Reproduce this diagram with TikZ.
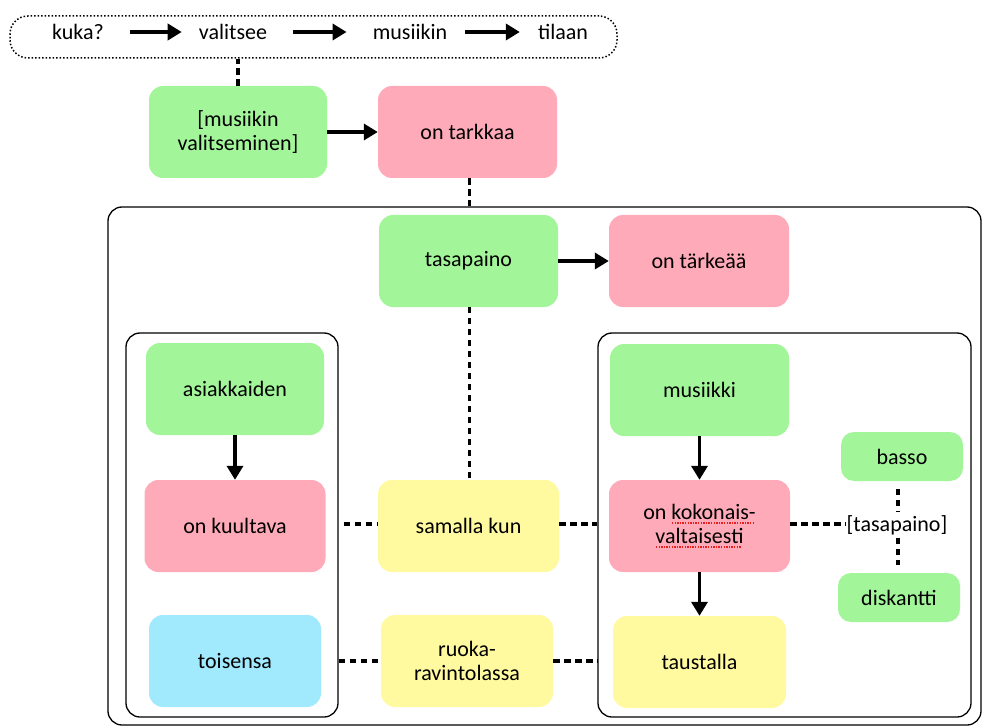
\documentclass[tikz,border=0pt]{standalone}
\usepackage{fontspec}
\setmainfont{Carlito}
\usetikzlibrary{arrows.meta}
\definecolor{cgreen}{RGB}{163,245,154}
\definecolor{cpink}{RGB}{255,170,184}
\definecolor{cyellow}{RGB}{255,249,160}
\definecolor{cblue}{RGB}{161,233,253}
\definecolor{spellred}{RGB}{235,30,30}
\newsavebox\spbox
\newcommand\spellmark[1]{\sbox\spbox{#1}\rlap{\hbox to \wd\spbox{\leaders\hbox to 2.6pt{\hss\textcolor{spellred}{\rule[-4.5pt]{1.4pt}{1.4pt}}\hss}\hfill}}\usebox\spbox}
\tikzset{
  box/.style={rounded corners=14pt, inner sep=0pt, align=center, font=\fontsize{22}{24}\selectfont, minimum width=#1},
  box/.default=180pt,
  tall/.style={minimum height=92pt},
  short/.style={minimum height=49pt},
  frame/.style={draw, line width=1.3pt, rounded corners=14pt, inner sep=0pt},
  word/.style={inner sep=0pt, font=\fontsize{22}{24}\selectfont},
  arr/.style={line width=3.8pt, -{Triangle[length=14pt,width=16pt]}},
  dsh/.style={line width=3.4pt, dash pattern=on 6.5pt off 4.5pt},
  dot/.style={line width=3.4pt, dash pattern=on 6pt off 5pt}
}
\begin{document}
\begin{tikzpicture}[x=1pt,y=-1pt]
\useasboundingbox (0,0) rectangle (982,727);
% containers
\node[draw, line width=1.5pt, dotted, rounded corners=18pt, minimum width=607pt, minimum height=42pt] (top) at (313.5,37) {};
\node[frame, minimum width=873pt, minimum height=518pt] (outer) at (544.5,466) {};
\node[frame, minimum width=212pt, minimum height=384pt] (left) at (232,525) {};
\node[frame, minimum width=373pt, minimum height=384pt] (right) at (784.5,525) {};
% top sentence
\node[word] (k1) at (78,32) {kuka?};
\node[word] (k2) at (233,32) {valitsee};
\node[word] (k3) at (410,32) {musiikin};
\node[word] (k4) at (563,32) {tilaan};
\draw[arr, shorten <=26pt, shorten >=17pt] (k1.east) -- (k2.west);
\draw[arr, shorten <=26pt, shorten >=26pt] (k2.east) -- (k3.west);
\draw[arr, shorten <=18pt, shorten >=18pt] (k3.east) -- (k4.west);
% nodes
\node[box=178pt, tall, fill=cgreen] (mv) at (238,132) {[musiikin\\valitseminen]};
\node[box=179pt, tall, fill=cpink] (tark) at (467.5,132) {on tarkkaa};
\node[box=179pt, tall, fill=cgreen] (tas) at (468.5,261) {tasapaino};
\node[box=180pt, tall, fill=cpink] (tark2) at (699,261) {on tärkeää};
\node[box=178pt, tall, fill=cgreen] (asi) at (235,389) {asiakkaiden};
\node[box=181pt, tall, fill=cpink] (kuul) at (235,526) {on kuultava};
\node[box=172pt, tall, fill=cblue] (tois) at (235,661) {toisensa};
\node[box=181pt, tall, fill=cyellow] (sam) at (468.5,526) {samalla kun};
\node[box=172pt, tall, fill=cyellow] (ruo) at (467,661) {ruoka-\\ravintolassa};
\node[box=179pt, tall, fill=cgreen] (mus) at (699.5,390) {musiikki};
\node[box=181pt, tall, fill=cpink] (kok) at (699.5,526) {on \spellmark{kokonais-}\\\spellmark{valtaisesti}};
\node[box=173pt, tall, fill=cyellow] (taus) at (699.5,662) {taustalla};
\node[box=122pt, short, fill=cgreen, rounded corners=13pt] (bas) at (902,456.5) {basso};
\node[box=122pt, short, fill=cgreen, rounded corners=13pt] (dis) at (899,597.5) {diskantti};
\node[word] (tl) at (897,525) {[tasapaino]};
% connectors
\draw[dsh] (mv.north) -- (mv.north |- top.south);
\draw[arr] (mv.east) -- (tark.west);
\draw[dsh] ([xshift=2pt]tark.south) -- ([xshift=2pt]tark.south |- outer.north);
\draw[arr] (tas.east) -- (tark2.west);
\draw[dot] ([xshift=1pt]tas.south) -- ([xshift=1pt]tas.south |- sam.north);
\draw[arr] (asi.south) -- (asi.south |- kuul.north);
\draw[dsh, shorten <=5pt] ([yshift=2pt]left.east |- sam.west) -- ([yshift=2pt]sam.west);
\draw[dsh] ([yshift=2pt]sam.east) -- ([yshift=2pt]sam.east -| right.west);
\draw[dsh] (left.east |- ruo.west) -- (ruo.west);
\draw[dsh] (ruo.east) -- (ruo.east -| right.west);
\draw[arr] (mus.south) -- (mus.south |- kok.north);
\draw[arr] (kok.south) -- (kok.south |- taus.north);
\draw[dsh, shorten >=1pt] ([yshift=2pt]kok.east) -- ([yshift=2pt]kok.east -| tl.west);
\draw[dot, shorten <=8pt, shorten >=3pt] ([xshift=-4pt]bas.south) -- ([xshift=-4pt]bas.south |- tl.north);
\draw[dot, shorten <=3pt, shorten >=8pt] ([xshift=-1pt]dis.north |- tl.south) -- ([xshift=-1pt]dis.north);
\end{tikzpicture}
\end{document}
